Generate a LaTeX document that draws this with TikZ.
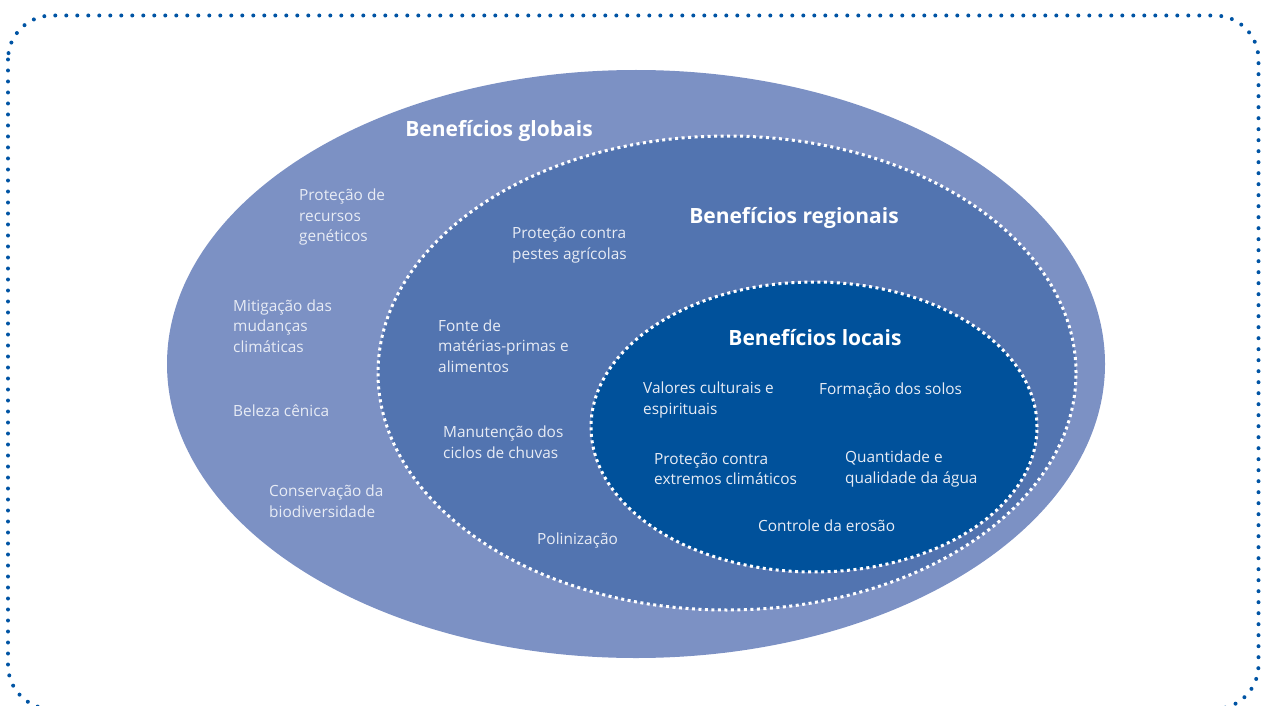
\documentclass[tikz,border=0pt]{standalone}
\usepackage{fontspec}
\setmainfont{Open Sans}
\usetikzlibrary{positioning}
\definecolor{frameblue}{RGB}{0,84,164}
\definecolor{globalblue}{RGB}{124,145,196}
\definecolor{regionblue}{RGB}{82,116,176}
\definecolor{localblue}{RGB}{0,81,155}
\definecolor{textgray}{RGB}{232,236,245}

\begin{document}
\begin{tikzpicture}[%
    x=1pt,
    y=-1pt,
    item/.style={anchor=west, align=left, inner sep=0pt, text=textgray,
      font=\fontsize{15.4}{20.5}\selectfont},
    title/.style={anchor=center, inner sep=0pt, text=white,
      font=\fontsize{21}{24}\selectfont\bfseries},
    dots/.style={draw=white, line width=3pt, dash pattern=on 3pt off 3.5pt}
  ]
  \useasboundingbox (0,0) rectangle (1261,706);
  \draw[frameblue, line width=4pt, line cap=round, dash pattern=on 0pt off 11pt,
    rounded corners=44pt] (8,15.5) rectangle (1258.5,709);

  \fill[globalblue] (636,364) ellipse [x radius=469pt, y radius=294pt];
  \fill[regionblue] (727,373) ellipse [x radius=349pt, y radius=237pt];
  \draw[dots] (727,373) ellipse [x radius=349pt, y radius=237pt];
  \fill[localblue] (814,427) ellipse [x radius=223pt, y radius=145pt];
  \draw[dots] (814,427) ellipse [x radius=223pt, y radius=145pt];

  \node[title] (globais) at (499,131) {Benefícios globais};
  \node[title] (regionais) at (794,218) {Benefícios regionais};
  \node[title] (locais) at (815,338) {Benefícios locais};

  \node[item] (recursos) at (299,217) {Proteção de\\recursos\\genéticos};
  \node[item] (clima) at (233,326) {Mitigação das\\mudanças\\climáticas};
  \node[item] (beleza) at (233,411) {Beleza cênica};
  \node[item] (biodiv) at (269,501) {Conservação da\\biodiversidade};

  \node[item] (pestes) at (512,245) {Proteção contra\\pestes agrícolas};
  \node[item] (materias) at (438,346) {Fonte de\\matérias-primas e\\alimentos};
  \node[item] (chuvas) at (443,442) {Manutenção dos\\ciclos de chuvas};
  \node[item] (polin) at (537,540) {Polinização};

  \node[item] (cultura) at (643,400) {Valores culturais e\\espirituais};
  \node[item] (solos) at (819,390) {Formação dos solos};
  \node[item] (extremos) at (654,469) {Proteção contra\\extremos climáticos};
  \node[item] (agua) at (845,469) {Quantidade e\\qualidade da água};
  \node[item] (erosao) at (758,526) {Controle da erosão};
\end{tikzpicture}
\end{document}
